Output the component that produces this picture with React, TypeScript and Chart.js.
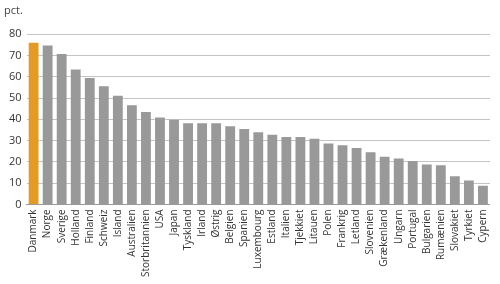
import React, { useEffect, useRef } from "react";
import { Chart, registerables } from "chart.js";

Chart.register(...registerables);

const categories = ["Danmark","Norge","Sverige","Holland","Finland","Schweiz","Island","Australien","Storbritannien","USA","Japan","Tyskland","Irland","Østrig","Belgien","Spanien","Luxembourg","Estland","Italien","Tjekkiet","Litauen","Polen","Frankrig","Letland","Slovenien","Grækenland","Ungarn","Portugal","Bulgarien","Rumænien","Slovakiet","Tyrkiet","Cypern"];
const values = [76,74.7,70.7,63.4,59.4,55.5,51.1,46.6,43.4,40.9,39.8,38.1,38.1,38.1,36.7,35.4,33.9,32.8,31.7,31.7,30.9,28.7,27.8,26.5,24.5,22.4,21.6,20.4,18.8,18.4,13.3,11.3,8.8];
const yTicks = [0,10,20,30,40,50,60,70,80];
const unitLabel = "pct.";

const FONT = "'Open Sans', sans-serif";

export default function App() {
  const ref = useRef<HTMLCanvasElement>(null);
  useEffect(() => {
    const ctx = ref.current!;
    const chart = new Chart(ctx, {
      type: "bar",
      data: {
        labels: categories,
        datasets: [{
          data: values,
          backgroundColor: categories.map((_, i) => (i === 0 ? "#E39B27" : "#999999")),
          categoryPercentage: 0.7,
          barPercentage: 1,
        }],
      },
      options: {
        animation: false,
        responsive: false,
        maintainAspectRatio: false,
        layout: { padding: { left: 4, right: 4, top: 0, bottom: 2 } },
        plugins: {
          legend: { display: false },
          tooltip: { enabled: false },
          title: {
            display: true,
            text: unitLabel,
            align: "start",
            color: "#444",
            font: { family: FONT, size: 11, weight: "normal" },
            padding: { top: 4, bottom: 17 },
          },
        },
        scales: {
          x: {
            grid: { display: false, drawTicks: false },
            border: { display: true, color: "#999", width: 1 },
            ticks: {
              minRotation: 90,
              maxRotation: 90,
              autoSkip: false,
              color: "#333",
              padding: 5,
              font: { family: FONT, size: 10 },
            },
          },
          y: {
            min: 0,
            max: 80,
            afterBuildTicks: (axis: any) => { axis.ticks = yTicks.map((v) => ({ value: v })); },
            grid: { color: "#c4c4c4", drawTicks: false, lineWidth: 1 },
            border: { display: false },
            ticks: {
              color: "#333",
              padding: 5,
              font: { family: FONT, size: 11 },
            },
          },
        },
      },
    });
    return () => chart.destroy();
  }, []);
  return (
    <div style={{ position: "fixed", left: 0, top: 0, width: 500, height: 284, background: "#fff" }}>
      <canvas ref={ref} width={500} height={284} style={{ width: 500, height: 284 }} />
    </div>
  );
}
